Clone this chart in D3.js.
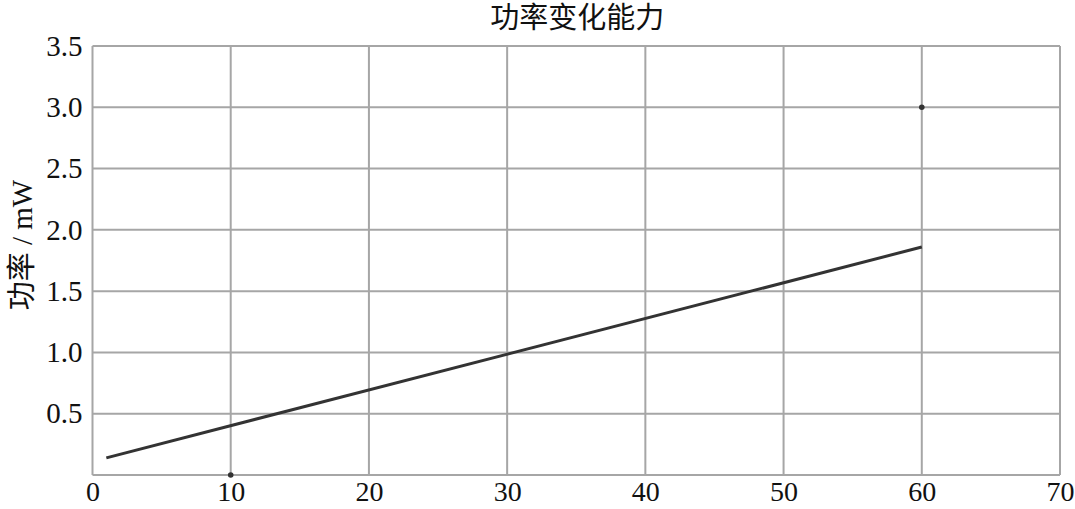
<!DOCTYPE html>
<html><head><meta charset="utf-8">
<script src="https://cdn.jsdelivr.net/npm/d3@7"></script>
<style>body{margin:0;background:#fff}svg{display:block}</style>
</head><body>
<svg id="chart" width="1075" height="509"></svg>
<script>
const title = "功率变化能力";
const yLabel = "功率 / mW";
const xTicks = [0, 10, 20, 30, 40, 50, 60, 70];
const yTicks = [0.5, 1.0, 1.5, 2.0, 2.5, 3.0, 3.5];
const lineX = [1, 60];
const lineY = [0.14, 1.86];
const pointX = [10, 60];
const pointY = [0, 3.0];

const W = 1075, H = 509;
const m = {left: 92.5, right: 15, top: 46, bottom: 34};
const svg = d3.select("#chart");
const x = d3.scaleLinear().domain([0, 70]).range([m.left, W - m.right]);
const y = d3.scaleLinear().domain([0, 3.5]).range([H - m.bottom, m.top]);
const serif = "'Liberation Serif','Times New Roman','Noto Sans CJK SC',serif";
const grid = "#a6a6a6";

// grid
svg.append("g").selectAll("line").data(xTicks).join("line")
  .attr("x1", d => x(d)).attr("x2", d => x(d))
  .attr("y1", y(0)).attr("y2", y(3.5))
  .attr("stroke", grid).attr("stroke-width", 2);
svg.append("g").selectAll("line").data([0].concat(yTicks)).join("line")
  .attr("x1", x(0)).attr("x2", x(70))
  .attr("y1", d => y(d)).attr("y2", d => y(d))
  .attr("stroke", grid).attr("stroke-width", 2);

// axes labels via d3 axes
const xAxis = svg.append("g").attr("transform", `translate(0,${y(0)})`)
  .call(d3.axisBottom(x).tickValues(xTicks).tickSize(0).tickPadding(6).tickFormat(d3.format("d")));
const yAxis = svg.append("g").attr("transform", `translate(${x(0)},0)`)
  .call(d3.axisLeft(y).tickValues(yTicks).tickSize(0).tickPadding(10).tickFormat(d3.format(".1f")));
[xAxis, yAxis].forEach(g => {
  g.select(".domain").remove();
  g.selectAll("text").attr("font-family", serif).attr("font-size", 29).attr("fill", "#111");
});
xAxis.selectAll("text").attr("font-size", 28).attr("dy", "0.72em");

// line
const lineData = lineX.map((d, i) => [d, lineY[i]]);
svg.append("path").datum(lineData)
  .attr("d", d3.line().x(d => x(d[0])).y(d => y(d[1])))
  .attr("fill", "none").attr("stroke", "#333").attr("stroke-width", 3);

// points
svg.append("g").selectAll("circle").data(pointX.map((d, i) => [d, pointY[i]])).join("circle")
  .attr("cx", d => x(d[0])).attr("cy", d => y(d[1])).attr("r", 2.8).attr("fill", "#333");

// title
svg.append("text").attr("x", (x(0) + x(70)) / 2 + 1).attr("y", 28)
  .attr("text-anchor", "middle").attr("font-family", serif).attr("font-size", 29)
  .attr("fill", "#111").text(title);

// y label
svg.append("text").attr("transform", `translate(32,245) rotate(-90)`)
  .attr("text-anchor", "middle").attr("font-family", serif).attr("font-size", 29)
  .attr("fill", "#111").text(yLabel);
</script>
</body></html>
